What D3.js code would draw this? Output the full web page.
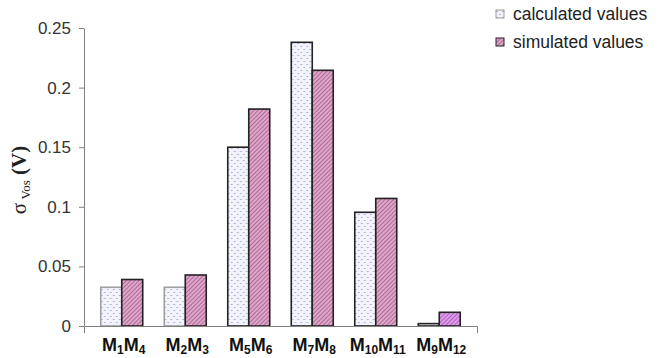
<!DOCTYPE html>
<html lang="en">
<head>
<meta charset="utf-8">
<title>sigma Vos bar chart</title>
<script src="https://d3js.org/d3.v7.min.js"></script>
<style>
  body { margin: 0; background: #fff; }
  .axis path, .axis line { stroke: #808080; }
  .axis text { font-family: Arial, "Liberation Sans", sans-serif; font-size: 17px; fill: #333; }
</style>
</head>
<body>
<script>
// data
const pairs = ["M1M4", "M2M3", "M5M6", "M7M8", "M10M11", "M9M12"];
const labelParts = [["1", "4"], ["2", "3"], ["5", "6"], ["7", "8"], ["10", "11"], ["9", "12"]];
const calculated = [0.0325, 0.0325, 0.150, 0.238, 0.0954, 0.002];
const simulated = [0.039, 0.0428, 0.182, 0.2145, 0.107, 0.0115];
const seriesNames = ["calculated values", "simulated values"];
const yTicks = [0, 0.05, 0.1, 0.15, 0.2, 0.25];

const w = 667, h = 358;
const plotLeft = 84, plotRight = 477, plotTop = 28, plotBottom = 326;

const svg = d3.select("body").append("svg")
    .attr("width", w).attr("height", h);

// fill patterns
const defs = svg.append("defs");
const dots = defs.append("pattern")
    .attr("id", "dots").attr("patternUnits", "userSpaceOnUse")
    .attr("width", 6).attr("height", 6);
dots.append("rect").attr("width", 6).attr("height", 6).attr("fill", "#f3f3fc");
dots.append("rect").attr("x", 0).attr("y", 1).attr("width", 2).attr("height", 1).attr("fill", "#b3b3df");
dots.append("rect").attr("x", 3).attr("y", 4).attr("width", 2).attr("height", 1).attr("fill", "#b3b3df");

const hatch = defs.append("pattern")
    .attr("id", "hatch").attr("patternUnits", "userSpaceOnUse")
    .attr("width", 3).attr("height", 3)
    .attr("patternTransform", "rotate(45)");
hatch.append("rect").attr("width", 3).attr("height", 3).attr("fill", "#dca6c8");
hatch.append("line").attr("x1", 0).attr("y1", 0).attr("x2", 0).attr("y2", 3)
    .attr("stroke", "#9c4a7e").attr("stroke-width", 1.3);

const hatch2 = defs.append("pattern")
    .attr("id", "hatch2").attr("patternUnits", "userSpaceOnUse")
    .attr("width", 3).attr("height", 3)
    .attr("patternTransform", "rotate(45)");
hatch2.append("rect").attr("width", 3).attr("height", 3).attr("fill", "#dc9ce8");
hatch2.append("line").attr("x1", 0).attr("y1", 0).attr("x2", 0).attr("y2", 3)
    .attr("stroke", "#a040b0").attr("stroke-width", 1.3);

// scales
const x = d3.scaleBand().domain(pairs).range([plotLeft, plotRight])
    .paddingInner(0.339).paddingOuter(0.264);
const xs = d3.scaleBand().domain([0, 1]).range([0, x.bandwidth()]);
const y = d3.scaleLinear().domain([0, 0.25]).range([plotBottom, plotTop]);

// bars
const groups = svg.selectAll(".grp").data(pairs).enter().append("g")
    .attr("transform", d => "translate(" + x(d) + ",0)");

groups.append("rect")
    .attr("x", xs(0)).attr("width", xs.bandwidth())
    .attr("y", (d, i) => y(calculated[i]))
    .attr("height", (d, i) => y(0) - y(calculated[i]))
    .attr("fill", "url(#dots)")
    .attr("stroke", (d, i) => i < 2 ? "#a0a0a0" : "#222")
    .attr("stroke-width", 1.6);

groups.append("rect")
    .attr("x", xs(1)).attr("width", xs.bandwidth())
    .attr("y", (d, i) => y(simulated[i]))
    .attr("height", (d, i) => y(0) - y(simulated[i]))
    .attr("fill", (d, i) => i === 5 ? "url(#hatch2)" : "url(#hatch)")
    .attr("stroke", "#222").attr("stroke-width", 1.6);

// axes
svg.append("g").attr("class", "axis")
    .attr("transform", "translate(" + plotLeft + ",0)")
    .call(d3.axisLeft(y).tickValues(yTicks).tickFormat(d => String(+d.toFixed(2)))
        .tickSize(5).tickSizeOuter(0).tickPadding(8));

const xAxis = svg.append("g").attr("class", "axis")
    .attr("transform", "translate(0," + plotBottom + ")")
    .call(d3.axisBottom(x).tickSizeInner(0).tickSizeOuter(7).tickFormat(""));
xAxis.selectAll(".tick").remove();

// category labels with subscripts
const lab = svg.selectAll(".xlab").data(pairs).enter().append("text")
    .attr("x", d => x(d) + x.bandwidth() / 2 + 2)
    .attr("y", 351)
    .attr("text-anchor", "middle")
    .attr("font-family", "Arial, 'Liberation Sans', sans-serif")
    .attr("font-weight", "bold")
    .attr("font-size", "18px")
    .attr("fill", "#111");
lab.each(function(d, i) {
    const t = d3.select(this);
    t.append("tspan").text("M");
    t.append("tspan").attr("font-size", "12px").attr("dy", 3).text(labelParts[i][0]);
    t.append("tspan").attr("dy", -3).text("M");
    t.append("tspan").attr("font-size", "12px").attr("dy", 3).text(labelParts[i][1]);
});

// y label
const yl = svg.append("text")
    .attr("transform", "translate(26,180) rotate(-90)")
    .attr("text-anchor", "middle")
    .attr("font-family", "'Liberation Serif', 'Times New Roman', serif")
    .attr("font-size", "21px")
    .attr("fill", "#222");
yl.append("tspan").text("σ");
yl.append("tspan").attr("font-size", "13px").attr("dy", 4).text(" Vos");
yl.append("tspan").attr("dy", -4).attr("font-weight", "bold").text(" (V)");

// legend
const legend = svg.selectAll(".leg").data(seriesNames).enter().append("g")
    .attr("transform", (d, i) => "translate(496," + (10 + i * 28) + ")");
legend.append("rect")
    .attr("width", 8).attr("height", 8)
    .attr("fill", (d, i) => i === 0 ? "url(#dots)" : "url(#hatch)")
    .attr("stroke", (d, i) => i === 0 ? "#999" : "#222");
legend.append("text")
    .attr("x", 17).attr("y", 4).attr("dy", "0.35em")
    .attr("font-family", "Arial, 'Liberation Sans', sans-serif")
    .attr("font-size", "17.5px")
    .attr("fill", "#222")
    .text(d => d);
</script>
</body>
</html>
